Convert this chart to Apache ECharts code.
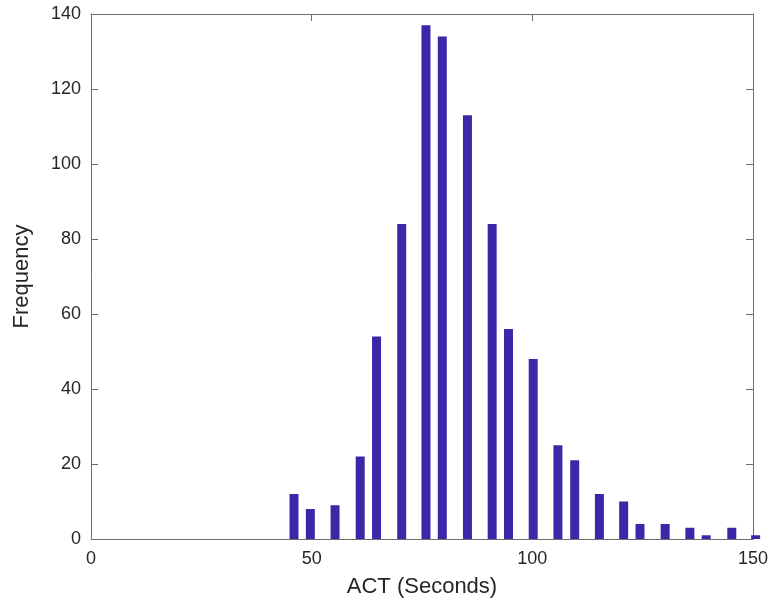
<!DOCTYPE html>
<html>
<head>
<meta charset="utf-8">
<script src="https://cdn.jsdelivr.net/npm/echarts@6/dist/echarts.min.js"></script>
<style>html,body{margin:0;padding:0;background:#fff}#c{width:771px;height:605px}</style>
</head>
<body>
<div id="c"></div>
<script>
var binCenters = [46.0, 49.7, 55.3, 61.0, 64.7, 70.4, 75.9, 79.6, 85.3, 90.9, 94.6, 100.2, 105.8, 109.6, 115.2, 120.7, 124.4, 130.1, 135.7, 139.4, 145.2, 150.6];
var frequencies = [12, 8, 9, 22, 54, 84, 137, 134, 113, 84, 56, 48, 25, 21, 12, 10, 4, 4, 3, 1, 3, 1];
var xTicks = [0, 50, 100, 150];
var yTicks = [0, 20, 40, 60, 80, 100, 120, 140];

var axisColor = '#6e6e6e';
var textColor = '#262626';
var font = 'Liberation Sans, Arial, sans-serif';

var data = binCenters.map(function (x, i) { return [x, frequencies[i]]; });

function frameAxis(extra) {
  var base = {
    type: 'value',
    axisLine: {show: true, onZero: false, lineStyle: {color: axisColor, width: 1}},
    axisTick: {show: true, inside: true, length: 7, lineStyle: {color: axisColor}},
    splitLine: {show: false}
  };
  for (var k in extra) base[k] = extra[k];
  return base;
}

var chart = echarts.init(document.getElementById('c'), null, {renderer: 'canvas'});
chart.setOption({
  animation: false,
  grid: {left: 91, right: 17, top: 14, bottom: 66, containLabel: false},
  xAxis: [
    frameAxis({
      min: 0, max: 150, interval: 50, position: 'bottom',
      name: 'ACT (Seconds)', nameLocation: 'middle', nameGap: 37,
      nameTextStyle: {color: textColor, fontSize: 22, fontFamily: font},
      axisLabel: {color: textColor, fontSize: 18, fontFamily: font, margin: 11,
        formatter: function (v) { return xTicks.indexOf(v) >= 0 ? String(v) : ''; }}
    }),
    frameAxis({
      min: 0, max: 150, interval: 50, position: 'top',
      axisLabel: {show: false}
    })
  ],
  yAxis: [
    frameAxis({
      min: 0, max: 140, interval: 20, position: 'left',
      name: 'Frequency', nameLocation: 'middle', nameGap: 58, nameRotate: 90,
      nameTextStyle: {color: textColor, fontSize: 22, fontFamily: font},
      axisLabel: {color: textColor, fontSize: 18, fontFamily: font, margin: 10,
        formatter: function (v) { return yTicks.indexOf(v) >= 0 ? String(v) : ''; }}
    }),
    frameAxis({
      min: 0, max: 140, interval: 20, position: 'right',
      axisLabel: {show: false}
    })
  ],
  series: [{
    type: 'bar', xAxisIndex: 0, yAxisIndex: 0,
    data: data, barWidth: 9, clip: true,
    itemStyle: {color: '#3E26A8'}
  }]
});
</script>
</body>
</html>
